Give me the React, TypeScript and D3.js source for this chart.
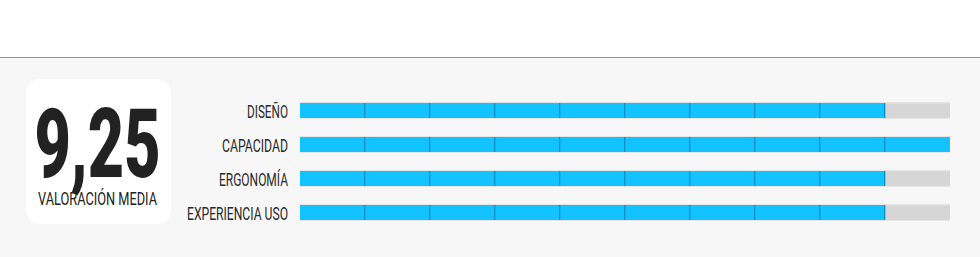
import React from "react";
import * as d3 from "d3";

const categories = ["DISEÑO", "CAPACIDAD", "ERGONOMÍA", "EXPERIENCIA USO"];
const scores = [9, 10, 9, 9];
const maxScore = 10;
const average = "9,25";
const averageLabel = "VALORACIÓN MEDIA";

const W = 980;
const H = 257;
const labelWidths = [41, 66, 69, 101];

export default function App() {
  const x = d3.scaleLinear().domain([0, maxScore]).range([300, 950]);
  const y = d3.scalePoint<string>().domain(categories).range([110.5, 212.5]);
  const barH = 15;
  const font = "Roboto, 'Open Sans', sans-serif";
  const ticks = d3.range(1, maxScore + 1);
  return (
    <svg width={W} height={H} style={{ position: "absolute", left: 0, top: 0 }}>
      <rect x={0} y={0} width={W} height={H} fill="#ffffff" />
      <rect x={0} y={57.5} width={W} height={H - 57.5} fill="#f7f7f7" />
      <line x1={0} x2={W} y1={57.5} y2={57.5} stroke="#3ab4e3" strokeWidth={1} />
      <rect x={26} y={79} width={145} height={145} rx={14} ry={14} fill="#ffffff" />
      <text x={97.5} y={177} textAnchor="middle" fontFamily={font} fontWeight={900} fontSize={96} fill="#222" textLength={126} lengthAdjust="spacingAndGlyphs">{average}</text>
      <text x={97.5} y={204.5} textAnchor="middle" fontFamily={font} fontWeight={400} fontSize={17.5} fill="#222" textLength={119} lengthAdjust="spacingAndGlyphs">{averageLabel}</text>
      {categories.map((c, i) => {
        const by = Math.round(y(c)! - barH / 2);
        const v = scores[i];
        return (
          <g key={c}>
            <text x={288} y={by + barH} textAnchor="end" fontFamily={font} fontWeight={400} fontSize={17.5} fill="#2a2a2a" textLength={labelWidths[i]} lengthAdjust="spacingAndGlyphs">{c}</text>
            <rect x={x(0)} y={by - 0.5} width={x(maxScore) - x(0)} height={barH + 1} fill="#d6d6d6" />
            <rect x={x(0)} y={by - 0.5} width={x(maxScore) - x(0)} height={1} fill="#e2e2e2" />
            <rect x={x(0)} y={by} width={x(v) - x(0)} height={barH} fill="#12c3ff" />
            {ticks.filter((t) => t <= v && t < maxScore).map((t) => (
              <rect key={t} x={x(t) - 1} y={by} width={1.3} height={barH} fill="#0a8fc4" />
            ))}
          </g>
        );
      })}
    </svg>
  );
}
